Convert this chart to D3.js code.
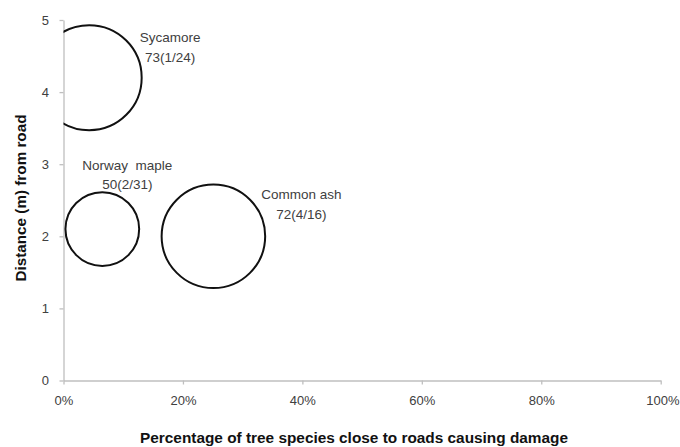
<!DOCTYPE html>
<head>
  <title>Tree species damage bubble chart</title>
  <style>
    body { margin: 0; background: #fff; }
    text { font-family: "Liberation Sans", Arial, sans-serif; fill: #404040; }
  </style>
</head>
<body>
  <script src="https://cdn.jsdelivr.net/npm/d3@7"></script>
  <script>
    // data
    var species = ["Sycamore", "Norway  maple", "Common ash"];
    var pctDamage = [4.3, 6.5, 25.1];
    var distance = [4.2, 2.1, 2.0];
    var bubbleSize = [73, 36, 71];
    var sizeLabels = ["73(1/24)", "50(2/31)", "72(4/16)"];
    var xTicks = [0, 20, 40, 60, 80, 100];
    var yTicks = [0, 1, 2, 3, 4, 5];

    // label offsets from bubble centre (px)
    var labelDx = [81, 25, 88];
    var labelDy = [-35.5, -59.5, -37];

    var W = 680, H = 447;
    var plotLeft = 63.5, plotRight = 660.7, plotTop = 20, plotBottom = 380.5;

    var x = d3.scaleLinear().domain([0, 100]).range([plotLeft, plotRight]);
    var y = d3.scaleLinear().domain([0, 5]).range([plotBottom, plotTop]);
    var r = d3.scaleSqrt().domain([0, 73]).range([0, 52.5]);

    var svg = d3.select("body").append("svg")
        .attr("width", W)
        .attr("height", H);

    svg.append("defs").append("clipPath").attr("id", "plot")
      .append("rect")
        .attr("x", plotLeft).attr("y", 0)
        .attr("width", plotRight - plotLeft + 10).attr("height", plotBottom);

    // axes
    var xAxis = svg.append("g")
        .attr("transform", "translate(0," + plotBottom + ")")
        .call(d3.axisBottom(x).tickValues(xTicks).tickSize(4).tickSizeOuter(0).tickPadding(11.5)
          .tickFormat(function(d) { return d + "%"; }));

    var yAxis = svg.append("g")
        .attr("transform", "translate(" + plotLeft + ",0)")
        .call(d3.axisLeft(y).tickValues(yTicks).tickSize(4).tickSizeOuter(0).tickPadding(10.5)
          .tickFormat(d3.format("d")));

    [xAxis, yAxis].forEach(function(a) {
      a.select(".domain").attr("stroke", "#bfbfbf").attr("stroke-width", 1.3);
      a.selectAll(".tick line").attr("stroke", "#bfbfbf").attr("stroke-width", 1.3);
      a.selectAll(".tick text").style("font-size", "13px").attr("fill", "#404040")
        .style("font-family", "'Liberation Sans', Arial, sans-serif");
    });
    // last x label is pulled in so it stays inside the picture
    xAxis.selectAll(".tick text").filter(function(d) { return d === 100; })
        .attr("text-anchor", "end").attr("x", W - 1 - x(100));

    // bubbles
    var idx = d3.range(species.length);
    svg.append("g").attr("clip-path", "url(#plot)")
      .selectAll("circle").data(idx).enter().append("circle")
        .attr("cx", function(i) { return x(pctDamage[i]); })
        .attr("cy", function(i) { return y(distance[i]); })
        .attr("r", function(i) { return r(bubbleSize[i]); })
        .attr("fill", "none")
        .attr("stroke", "#111")
        .attr("stroke-width", 2);

    // data labels
    var lab = svg.append("g").selectAll("text").data(idx).enter().append("text")
        .attr("text-anchor", "middle")
        .style("font-size", "13.5px")
        .attr("x", function(i) { return x(pctDamage[i]) + labelDx[i]; })
        .attr("y", function(i) { return y(distance[i]) + labelDy[i]; });
    lab.append("tspan")
        .attr("x", function(i) { return x(pctDamage[i]) + labelDx[i]; })
        .style("white-space", "pre")
        .text(function(i) { return species[i]; });
    lab.append("tspan")
        .attr("x", function(i) { return x(pctDamage[i]) + labelDx[i]; })
        .attr("dy", 19.5)
        .text(function(i) { return sizeLabels[i]; });

    // axis titles
    svg.append("text")
        .attr("x", 354)
        .attr("y", 443)
        .attr("text-anchor", "middle")
        .attr("textLength", 428)
        .attr("lengthAdjust", "spacingAndGlyphs")
        .style("font-size", "14px")
        .style("font-weight", "bold")
        .style("fill", "#111")
        .text("Percentage of tree species close to roads causing damage");

    svg.append("text")
        .attr("transform", "translate(25.5," + 198 + ") rotate(-90)")
        .attr("text-anchor", "middle")
        .attr("textLength", 167)
        .attr("lengthAdjust", "spacingAndGlyphs")
        .style("font-size", "14.5px")
        .style("font-weight", "bold")
        .style("fill", "#111")
        .text("Distance (m) from road");
  </script>
</body>
